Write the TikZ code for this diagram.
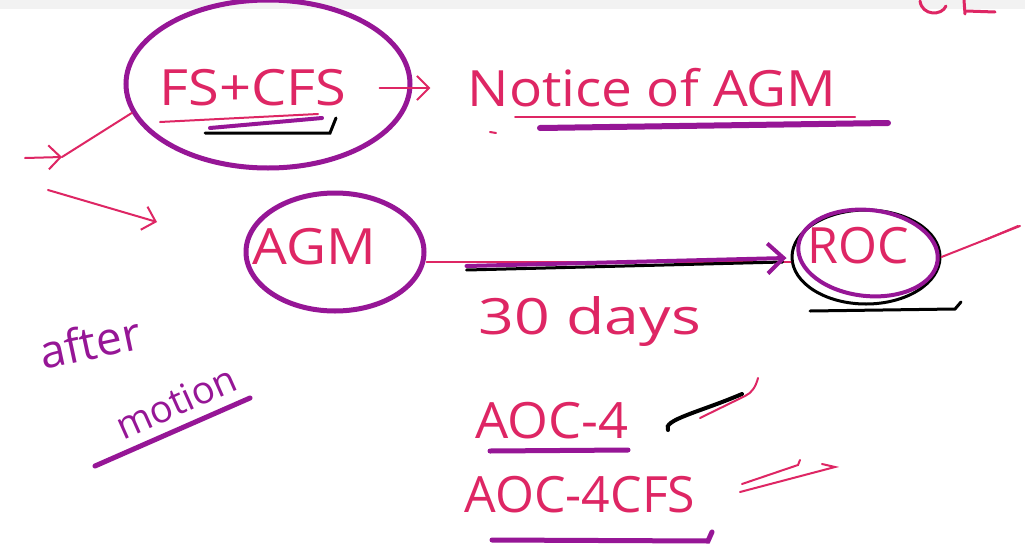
\documentclass[tikz,border=0pt]{standalone}
\usepackage{fontspec}
\setmainfont{Open Sans}
\usetikzlibrary{shapes.geometric,arrows.meta}
\definecolor{ink}{RGB}{222,38,100}
\definecolor{plum}{RGB}{150,22,150}
\tikzset{
 pinktext/.style={text=ink, font=\fontsize{50}{54}\selectfont, inner sep=0pt},
 plumtext/.style={text=plum, font=\fontsize{42}{46}\selectfont, inner sep=0pt},
 circled/.style={draw=plum, line width=5pt, ellipse, inner sep=0pt},
 pen/.style={draw=ink, line width=2pt, line cap=round},
 marker/.style={draw=plum, line width=5pt, line cap=round},
 blackpen/.style={draw=black, line width=3pt, line cap=round},
 chev/.style={-{Straight Barb[length=12pt,width=24pt,line width=2pt]}},
}
\begin{document}
\begin{tikzpicture}[x=1pt,y=-1pt]
\useasboundingbox (0,0) rectangle (1025,554);
\fill[white] (0,0) rectangle (1025,554);
\fill[black!5] (0,0) rectangle (1025,9);
% top-right fragment
\draw[pen, line width=3pt] (920,1) .. controls (922,16) and (942,16) .. (946,6);
\draw[pen, line width=3pt] (964,0) -- (965,14);
\draw[pen, line width=3pt] (966,11) -- (995,12);

% FS+CFS
\node[circled, minimum width=284, minimum height=168] (fs) at (268,84) {};
\node[pinktext, xscale=1.12] (fstext) at (253,88) {FS+CFS};
\draw[pen] (160,122) -- (318,114);
\draw[marker, line width=4pt] (210,128) -- (322,118);
\draw[blackpen] (205,133) -- (330,133) -- (336,118);

% Notice of AGM
\node[pinktext, xscale=1.1] (notice) at (652,88) {Notice of AGM};
\draw[pen, chev] ([xshift=33]fstext.east) -- ([xshift=-37]notice.west);
\draw[pen] (515,117) -- (855,117);
\draw[marker, line width=6pt] (540,128) -- (888,123);
\draw[pen] (490,132) -- (496,133);

% left arrows
\coordinate (l0) at (25,158);
\coordinate (l1) at (62,157);
\coordinate (l2) at (48,190);
\coordinate (l3) at (157,222);
\draw[pen] (fs.192) -- (l1);
\draw[pen, chev] (l0) -- (l1);
\draw[pen, chev] (l2) -- (l3);

% AGM
\node[circled, minimum width=178, minimum height=118] (agm) at (335,252) {};
\node[pinktext, xscale=1.1] (agmtext) at (314,247) {AGM};

% ROC
\node[ellipse, draw=black, line width=3pt, minimum width=148, minimum height=94] (roc) at (866,257) {};
\node[ellipse, draw=plum, line width=4pt, minimum width=140, minimum height=86, rotate=-6] (rocp) at (868,253) {};
\node[pinktext] (roctext) at (858,246) {ROC};
\coordinate (rt) at (1020,226);
\draw[pen] (roc.east) -- (rt);
\draw[pen] (985,240) -- (1018,226);
\draw[blackpen] (810,311) -- (955,309) -- (961,302);

% AGM -> ROC
\draw[pen] ([yshift=-10]agm.east) -- ([yshift=-5]roc.west);
\draw[blackpen] ([xshift=40,yshift=-18]agm.east) -- ([xshift=-8,yshift=-5]roc.west);
\draw[marker, line width=4pt, -{Straight Barb[length=16pt,width=30pt,line width=4pt]}] ([xshift=40,yshift=-14]agm.east) -- ([xshift=-4,yshift=-1]roc.west);
\node[pinktext, xscale=1.25] (days) at (590,322) {30 days};

% after motion
\node[plumtext, font=\fontsize{46}{50}\selectfont, rotate=12] (after) at (90,342) {after};
\node[plumtext, font=\fontsize{38}{42}\selectfont, rotate=24] (motion) at (176,402) {motion};
\draw[marker] (95,466) -- (250,398);

% AOC-4
\node[pinktext, xscale=1.05] (aoc) at (552,421) {AOC-4};
\draw[marker] (490,451) -- (628,450);
\draw[blackpen, line width=4pt] (668,430) .. controls (662,420) and (700,412) .. (742,394);
\draw[pen] (700,418) -- (745,396) .. controls (752,393) and (756,386) .. (758,378);

% AOC-4CFS
\node[pinktext] (aoccfs) at (580,495) {AOC-4CFS};
\draw[marker] (492,540) -- (708,541) -- (712,532);
\draw[pen] (742,484) -- (798,465) -- (800,460);
\draw[pen] (740,492) -- (835,467) -- (822,464);
\end{tikzpicture}
\end{document}
